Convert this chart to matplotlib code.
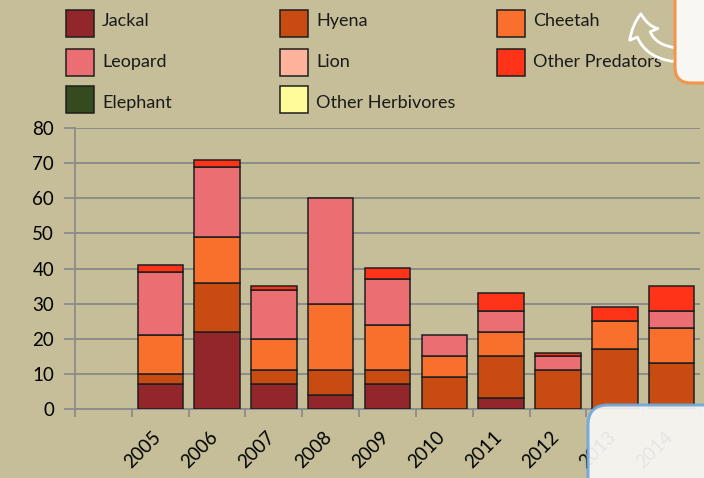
import numpy as np
import matplotlib.pyplot as plt
from matplotlib.patches import Rectangle, FancyBboxPatch, FancyArrowPatch
import matplotlib.transforms as mtransforms

plt.rcParams['font.family'] = ['Lato', 'DejaVu Sans']

# Dane: pierwsza kategoria jest pusta (tak jak na oryginale)
years = ['', '2005', '2006', '2007', '2008', '2009', '2010', '2011', '2012', '2013', '2014']
jackal = [0, 7, 22, 7, 4, 7, 0, 3, 0, 0, 0]
hyena = [0, 3, 14, 4, 7, 4, 9, 12, 11, 17, 13]
cheetah = [0, 11, 13, 9, 19, 13, 6, 7, 0, 8, 10]
leopard = [0, 18, 20, 14, 30, 13, 6, 6, 4, 0, 5]
lion = [0, 0, 0, 0, 0, 0, 0, 0, 0, 0, 0]
other_predators = [0, 2, 2, 1, 0, 3, 0, 5, 1, 4, 7]
elephant = [0, 0, 0, 0, 0, 0, 0, 0, 0, 0, 0]
other_herbivores = [0, 0, 0, 0, 0, 0, 0, 0, 0, 0, 0]

names = ['Jackal', 'Hyena', 'Cheetah', 'Leopard', 'Lion', 'Other Predators',
         'Elephant', 'Other Herbivores']
series = [jackal, hyena, cheetah, leopard, lion, other_predators, elephant, other_herbivores]
colors = ['#93262A', '#C84B12', '#F9702C', '#EA6E72', '#FFB39A', '#FF3318',
          '#344A1F', '#FFFB99']

BG = '#C5BE98'
GRID = '#8C8C8C'
W, H = 704, 478

fig = plt.figure(figsize=(W / 100, H / 100), dpi=100, facecolor=BG)
ax = fig.add_axes([75 / W, 1 - 409 / H, 625 / W, 281 / H])
ax.set_facecolor(BG)

x = np.arange(len(years))
bottom = np.zeros(len(years))
for vals, c in zip(series, colors):
    vals = np.array(vals, dtype=float)
    m = vals > 0
    ax.bar(x[m], vals[m], bottom=bottom[m], width=0.8, color=c,
           edgecolor='#1E1E1E', linewidth=1.1, zorder=3)
    bottom += vals

ax.set_xlim(-0.5, len(years) - 0.5)
ax.set_ylim(0, 80)
ax.set_yticks(range(0, 81, 10))
ax.yaxis.grid(True, color=GRID, linewidth=1.4)
ax.set_axisbelow(True)

# podział kategorii - kreski na granicach, etykiety na środku
ax.set_xticks(np.arange(len(years) + 1) - 0.5)
ax.set_xticklabels([])
ax.set_xticks(x, minor=True)
ax.set_xticklabels(years, minor=True, rotation=45, ha='right', va='top', fontsize=13.5)
ax.tick_params(axis='x', which='minor', length=0, pad=14)
ax.tick_params(axis='x', which='major', length=6, width=1.3, color=GRID)
ax.tick_params(axis='y', length=8, width=1.3, color=GRID, labelsize=13.5, pad=7)
offset = mtransforms.ScaledTranslation(0.04, 0, fig.dpi_scale_trans)
for lab in ax.get_xticklabels(minor=True):
    lab.set_transform(lab.get_transform() + offset)

for s in ['top', 'right']:
    ax.spines[s].set_visible(False)
for s in ['left', 'bottom']:
    ax.spines[s].set_color(GRID)
    ax.spines[s].set_linewidth(1.3)

# legenda w trzech kolumnach (wiersze jak w Excelu)
col_x = [66, 280, 497]
row_y = [23.5, 62, 99.5]
text_y = [21, 62.5, 103]
for i, (name, c) in enumerate(zip(names, colors)):
    r, k = divmod(i, 3)
    x0, yc = col_x[k], row_y[r]
    fig.add_artist(Rectangle((x0 / W, 1 - (yc + 13.5) / H), 28 / W, 27 / H,
                             transform=fig.transFigure, facecolor=c,
                             edgecolor='#1E1E1E', linewidth=1.1))
    fig.text((x0 + 36) / W, 1 - text_y[r] / H, name, fontsize=13,
             va='center', ha='left', color='#1A1A1A')

# nakładki ze zrzutu ekranu
fig.add_artist(FancyBboxPatch((588, -40), 200, 113, boxstyle='round,pad=0,rounding_size=20',
                              transform=None, facecolor='#F8F7F4', alpha=0.93,
                              edgecolor='#6FA8DC', linewidth=2.2, zorder=10))
fig.add_artist(FancyBboxPatch((675, 395), 80, 130, boxstyle='round,pad=0,rounding_size=16',
                              transform=None, facecolor='#F8F7F4',
                              edgecolor='#F2954A', linewidth=2.2, zorder=10))
fig.add_artist(FancyArrowPatch((678, 478 - 55), (641, 478 - 11), transform=None,
                               connectionstyle='arc3,rad=-0.5',
                               arrowstyle='simple,head_length=15,head_width=22,tail_width=10',
                               facecolor=BG, edgecolor='white', linewidth=2, zorder=9))

fig.savefig('out.png', dpi=100, facecolor=BG)
